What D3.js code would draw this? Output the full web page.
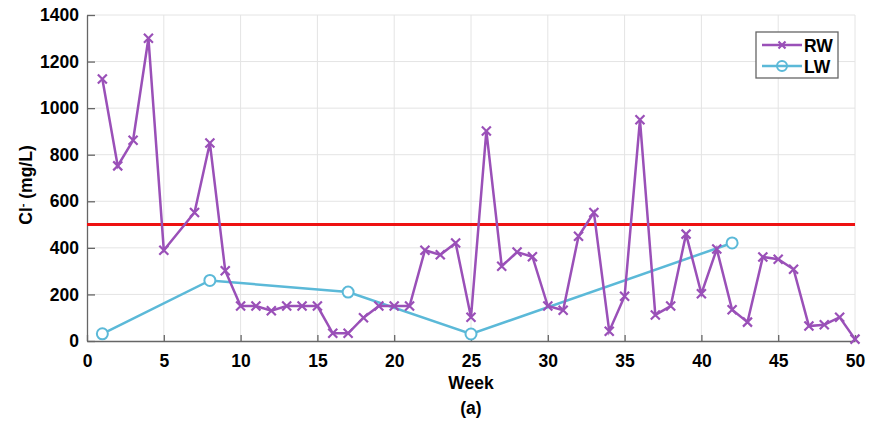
<html>
<head>
  <title>Cl- by week</title>
  <script src="https://d3js.org/d3.v7.min.js"></script>
  <style>
  body { margin: 0; background: white; }
  .grid line { stroke: #e4e4e4; stroke-width: 1px; }
  .tick text { font-family: "Liberation Sans", Arial, sans-serif; font-weight: bold; font-size: 17.5px; fill: black; }
  .axis path, .axis line { stroke: #666; stroke-width: 1.3px; }
  .lbl { font-family: "Liberation Sans", Arial, sans-serif; font-weight: bold; font-size: 17.5px; fill: black; }
  </style>
</head>
<body>
  <svg id="chart" width="876" height="421"></svg>
  <script>
    // RW: weekly samples (week 6 not sampled)
    const rwWeeks = [1,2,3,4,5,7,8,9,10,11,12,13,14,15,16,17,18,19,20,21,22,23,24,25,26,27,28,29,30,
                     31,32,33,34,35,36,37,38,39,40,41,42,43,44,45,46,47,48,49,50];
    const rwValues = [1125,752,862,1300,390,552,850,302,150,150,130,150,150,150,33,33,100,150,150,150,390,370,421,102,902,321,382,362,150,
                      132,450,552,42,192,950,112,150,459,203,395,134,81,361,351,308,64,70,102,8];
    // LW: occasional samples
    const lwWeeks = [1, 8, 17, 25, 42];
    const lwValues = [31, 260, 210, 30, 421];
    const limit = 500;
    const xTicks = [0,5,10,15,20,25,30,35,40,45,50];
    const yTicks = [0,200,400,600,800,1000,1200,1400];

    const svg = d3.select("#chart");
    const margin = {top: 15, right: 21, bottom: 80, left: 87};
    const width = 876 - margin.left - margin.right;
    const height = 421 - margin.top - margin.bottom;
    const g = svg.append("g").attr("transform", "translate(" + margin.left + "," + margin.top + ")");

    const x = d3.scaleLinear().domain([0, 50]).range([0, width]);
    const y = d3.scaleLinear().domain([0, 1400]).range([height, 0]);

    // grid
    const grid = g.append("g").attr("class", "grid");
    grid.selectAll(".gx").data(xTicks.slice(1)).enter().append("line")
      .attr("x1", d => x(d)).attr("x2", d => x(d)).attr("y1", 0).attr("y2", height);
    grid.selectAll(".gy").data(yTicks.slice(1)).enter().append("line")
      .attr("x1", 0).attr("x2", width).attr("y1", d => y(d)).attr("y2", d => y(d));

    // axes, ticks inside
    g.append("g").attr("class", "axis")
      .attr("transform", "translate(0," + height + ")")
      .call(d3.axisBottom(x).tickValues(xTicks).tickSizeInner(-6).tickSizeOuter(0).tickPadding(14));
    g.append("g").attr("class", "axis")
      .call(d3.axisLeft(y).tickValues(yTicks).tickFormat(d3.format("d"))
        .tickSizeInner(-8).tickSizeOuter(0).tickPadding(8));

    // limit line
    g.append("line")
      .attr("x1", x(0)).attr("x2", x(50))
      .attr("y1", y(limit)).attr("y2", y(limit))
      .attr("stroke", "#ee1111").attr("stroke-width", 3);

    const purple = "#9a50b8";
    const blue = "#5bb9d8";

    const rw = rwWeeks.map((w, i) => [w, rwValues[i]]);
    const lw = lwWeeks.map((w, i) => [w, lwValues[i]]);
    const line = d3.line().x(d => x(d[0])).y(d => y(d[1]));

    g.append("path").datum(lw).attr("d", line)
      .attr("fill", "none").attr("stroke", blue).attr("stroke-width", 2.5);
    g.selectAll(".lwpt").data(lw).enter().append("circle")
      .attr("cx", d => x(d[0])).attr("cy", d => y(d[1])).attr("r", 5.5)
      .attr("fill", "white").attr("stroke", blue).attr("stroke-width", 2);

    g.append("path").datum(rw).attr("d", line)
      .attr("fill", "none").attr("stroke", purple).attr("stroke-width", 2.5);
    const cross = s => "M" + (-s) + "," + (-s) + "L" + s + "," + s + "M" + (-s) + "," + s + "L" + s + "," + (-s);
    g.selectAll(".rwpt").data(rw).enter().append("path")
      .attr("transform", d => "translate(" + x(d[0]) + "," + y(d[1]) + ")")
      .attr("d", cross(4.5))
      .attr("stroke", purple).attr("stroke-width", 2.2).attr("fill", "none");

    // labels
    svg.append("text").attr("class", "lbl").attr("text-anchor", "middle")
      .attr("x", 471).attr("y", 389).text("Week");
    svg.append("text").attr("class", "lbl").attr("text-anchor", "middle")
      .attr("x", 471).attr("y", 414).text("(a)");
    const yl = svg.append("text").attr("class", "lbl").attr("text-anchor", "middle")
      .attr("transform", "translate(32,185) rotate(-90)");
    yl.append("tspan").text("Cl");
    yl.append("tspan").attr("baseline-shift", "super").attr("font-size", "11px").text("-");
    yl.append("tspan").text(" (mg/L)");

    // legend
    const leg = svg.append("g").attr("transform", "translate(756,32)");
    leg.append("rect").attr("width", 82).attr("height", 46)
      .attr("fill", "white").attr("stroke", "#666").attr("stroke-width", 1.3);
    const items = [["RW", purple, "x"], ["LW", blue, "o"]];
    items.forEach((it, i) => {
      const yy = 13 + i * 21;
      leg.append("line").attr("x1", 6).attr("x2", 46).attr("y1", yy).attr("y2", yy)
        .attr("stroke", it[1]).attr("stroke-width", 2.5);
      if (it[2] === "x") {
        leg.append("path").attr("transform", "translate(26," + yy + ")").attr("d", cross(3.5))
          .attr("stroke", it[1]).attr("stroke-width", 2.2);
      } else {
        leg.append("circle").attr("cx", 26).attr("cy", yy).attr("r", 5)
          .attr("fill", "none").attr("stroke", it[1]).attr("stroke-width", 2);
      }
      leg.append("text").attr("class", "lbl").attr("x", 48).attr("y", yy + 6.5).text(it[0]);
    });
  </script>
</body>
</html>
